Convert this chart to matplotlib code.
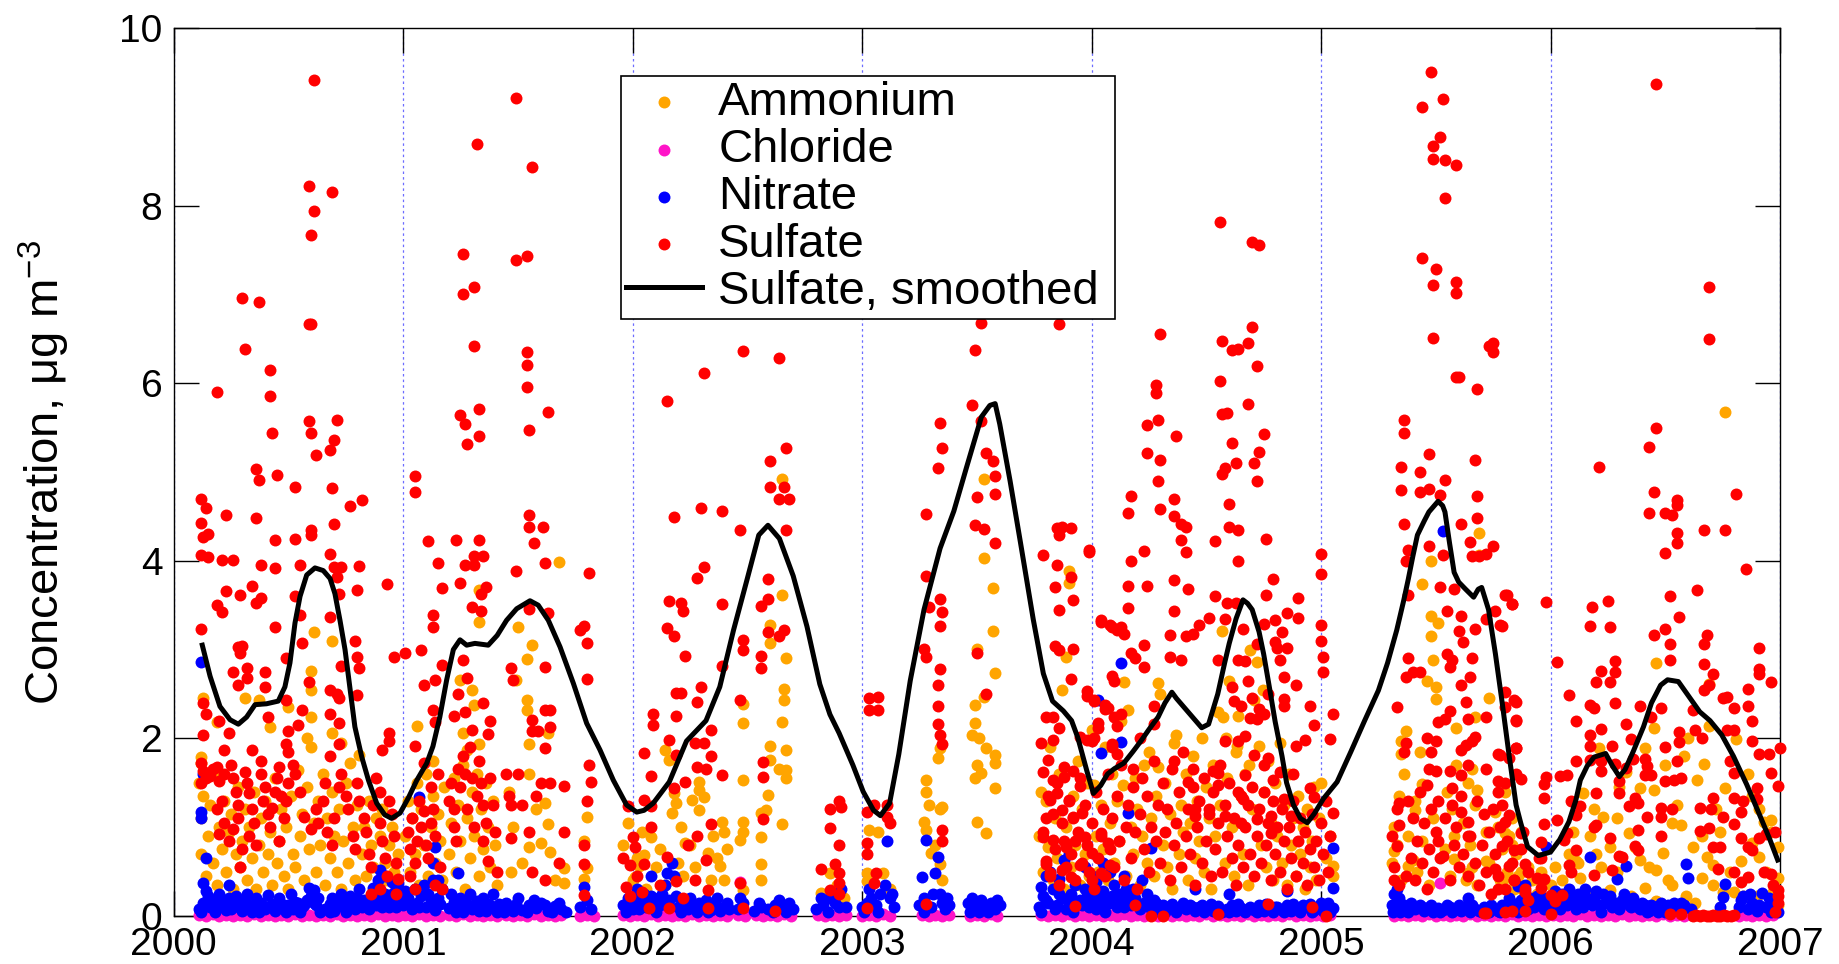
import numpy as np
import matplotlib
matplotlib.use('Agg')
import matplotlib.pyplot as plt

plt.rcParams['font.family'] = ['Liberation Sans', 'DejaVu Sans']
plt.rcParams['mathtext.fontset'] = 'custom'
plt.rcParams['mathtext.rm'] = 'Liberation Sans'

# --------------------------------------------------
# data (decimal year, ug/m3)
# --------------------------------------------------
sulfate = [
    # 2000
    (2000.12,4.70),(2000.12,4.43),(2000.13,4.27),(2000.15,4.30),(2000.12,4.07),(2000.15,4.04),(2000.14,4.59),
    (2000.19,5.90),(2000.23,4.52),(2000.30,6.96),(2000.37,6.92),(2000.31,6.38),(2000.42,6.15),(2000.42,5.86),
    (2000.43,5.44),(2000.36,5.03),(2000.37,4.91),(2000.45,4.97),(2000.53,4.83),(2000.61,9.42),(2000.59,8.22),
    (2000.69,8.15),(2000.61,7.94),(2000.60,7.67),(2000.59,6.67),(2000.60,6.67),(2000.59,5.57),(2000.71,5.59),
    (2000.60,5.44),(2000.70,5.36),(2000.68,5.25),(2000.62,5.19),(2000.69,4.82),(2000.70,4.42),(2000.77,4.62),
    (2000.82,4.68),(2000.36,4.48),(2000.44,4.23),(2000.53,4.25),(2000.60,4.35),(2000.60,4.29),(2000.21,4.01),
    (2000.26,4.01),(2000.38,3.95),(2000.44,3.92),(2000.55,3.95),(2000.68,4.08),(2000.70,3.93),(2000.73,3.93),
    (2000.81,3.94),(2000.12,3.23),(2000.19,3.50),(2000.21,3.42),(2000.23,3.66),(2000.29,3.61),(2000.34,3.72),
    (2000.36,3.52),(2000.38,3.58),(2000.44,3.25),(2000.53,3.60),(2000.55,3.39),(2000.68,3.37),(2000.71,3.82),
    (2000.72,3.63),(2000.80,3.67),(2000.93,3.74),(2000.28,3.03),(2000.30,3.04),(2000.29,2.96),(2000.56,3.07),
    (2000.79,3.10),(2000.80,2.92),(2000.81,2.79),(2000.73,2.81),(2000.96,2.92),(2001.01,2.96),(2001.08,3.00),
    (2000.26,2.75),(2000.32,2.79),(2000.40,2.75),(2000.32,2.68),(2000.28,2.60),(2000.40,2.58),(2000.49,2.90),
    (2000.59,2.64),(2000.68,2.55),(2000.71,2.50),(2000.72,2.45),(2000.80,2.49),(2000.13,2.40),(2000.14,2.28),
    (2000.20,2.20),(2000.41,2.24),(2000.49,2.43),(2000.56,2.32),(2000.68,2.28),(2000.72,2.17),(2000.13,2.04),
    (2000.24,2.06),(2000.22,1.87),(2000.34,1.87),(2000.50,2.08),(2000.49,1.94),(2000.54,2.15),(2000.72,1.94),
    (2000.68,1.80),(2000.94,2.06),(2000.94,1.97),(2000.91,1.87),
    (2000.12,1.72),(2000.13,1.63),(2000.12,1.50),(2000.14,1.55),(2000.16,1.58),(2000.17,1.65),(2000.19,1.68),
    (2000.20,1.52),(2000.22,1.60),(2000.21,1.30),(2000.19,1.20),(2000.22,1.05),(2000.20,0.92),(2000.24,0.85),
    (2000.25,1.70),(2000.26,1.55),(2000.27,1.40),(2000.28,1.25),(2000.28,1.10),(2000.26,0.98),(2000.30,0.75),
    (2000.29,0.55),(2000.31,1.62),(2000.33,1.38),(2000.34,1.20),(2000.35,1.05),(2000.33,0.90),(2000.36,0.80),
    (2000.32,1.50),(2000.38,1.75),(2000.38,1.60),(2000.40,1.45),(2000.39,1.30),(2000.41,1.15),(2000.42,1.00),
    (2000.43,1.22),(2000.44,1.40),(2000.45,1.55),(2000.46,1.68),(2000.47,1.35),(2000.48,1.10),(2000.46,0.85),
    (2000.50,1.85),(2000.52,1.70),(2000.53,1.60),(2000.50,1.50),(2000.49,1.30),(2000.55,1.40),(2000.57,1.12),
    (2000.60,0.98),(2000.62,1.20),(2000.63,1.05),(2000.65,1.30),(2000.66,1.50),(2000.67,0.95),(2000.69,0.80),
    (2000.70,1.10),(2000.72,1.45),(2000.73,1.60),(2000.75,1.35),(2000.76,1.20),(2000.78,0.90),(2000.79,0.75),
    (2000.80,1.50),(2000.81,1.30),(2000.83,1.10),(2000.84,0.95),(2000.85,0.70),(2000.86,0.55),(2000.87,1.25),
    (2000.88,1.55),(2000.90,1.40),(2000.90,1.05),(2000.91,0.85),(2000.92,0.65),(2000.93,0.45),(2000.94,1.30),
    (2000.95,1.15),(2000.96,0.90),(2000.97,0.60),(2000.98,0.42),(2000.97,0.25),(2000.90,0.30),(2000.86,0.25),
    # 2001
    (2001.49,9.21),(2001.32,8.69),(2001.56,8.44),(2001.26,7.46),(2001.49,7.39),(2001.54,7.43),(2001.31,7.08),
    (2001.26,7.00),(2001.31,6.42),(2001.54,6.35),(2001.54,6.20),(2001.54,5.96),(2001.33,5.71),(2001.63,5.68),
    (2001.25,5.64),(2001.27,5.54),(2001.33,5.41),(2001.28,5.31),(2001.55,5.47),(2001.05,4.95),(2001.05,4.78),
    (2001.11,4.22),(2001.15,3.97),(2001.17,3.69),(2001.25,3.75),(2001.23,4.23),(2001.27,3.95),(2001.31,3.95),
    (2001.33,4.23),(2001.31,4.05),(2001.35,4.05),(2001.34,3.63),(2001.36,3.71),(2001.30,3.48),(2001.34,3.43),
    (2001.13,3.39),(2001.13,3.26),(2001.26,2.88),(2001.28,2.68),(2001.49,3.88),(2001.55,4.52),(2001.55,4.38),
    (2001.61,4.38),(2001.57,4.20),(2001.62,3.97),(2001.55,3.46),(2001.63,3.41),(2001.47,2.79),(2001.48,2.66),
    (2001.62,2.80),(2001.64,2.32),(2001.62,2.32),(2001.56,2.21),(2001.56,2.08),(2001.59,2.08),(2001.64,2.13),
    (2001.62,1.89),(2001.13,2.32),(2001.14,2.19),(2001.17,2.83),(2001.14,2.66),(2001.09,2.60),(2001.05,1.91),
    (2001.09,1.72),
    (2001.02,0.95),(2001.03,0.75),(2001.04,1.10),(2001.05,0.60),(2001.06,0.85),(2001.07,1.30),(2001.08,1.00),
    (2001.09,1.18),(2001.10,0.80),(2001.11,0.65),(2001.12,1.45),(2001.12,1.05),(2001.13,1.20),(2001.14,0.90),
    (2001.15,1.60),(2001.16,0.55),(2001.17,0.30),(2001.14,0.35),(2001.05,0.30),(2001.03,0.45),(2001.20,1.30),
    (2001.21,1.50),(2001.22,1.20),(2001.22,1.00),(2001.23,0.85),(2001.24,1.65),(2001.25,1.45),(2001.26,1.80),
    (2001.27,1.60),(2001.28,1.20),(2001.29,1.90),(2001.30,1.55),(2001.31,1.00),(2001.32,1.35),(2001.33,1.75),
    (2001.34,1.50),(2001.35,1.25),(2001.35,0.85),(2001.36,1.05),(2001.37,0.62),(2001.38,1.55),(2001.39,1.25),
    (2001.40,0.95),(2001.41,0.50),(2001.30,2.10),(2001.35,2.40),(2001.38,2.20),(2001.37,2.05),(2001.27,2.30),
    (2001.24,2.50),(2001.22,2.25),
    (2001.45,1.60),(2001.46,1.35),(2001.47,1.25),(2001.47,0.88),(2001.50,1.60),(2001.52,1.25),(2001.55,0.95),
    (2001.58,1.35),(2001.60,1.50),(2001.64,1.50),(2001.70,1.46),(2001.70,0.95),(2001.68,0.60),(2001.62,0.40),
    (2001.56,0.50),
    (2001.77,3.22),(2001.79,3.27),(2001.80,3.07),(2001.80,2.67),(2001.81,3.86),(2001.81,1.70),(2001.82,1.51),
    (2001.80,1.29),(2001.79,0.80),(2001.79,0.59),(2001.79,0.24),
    # 2002
    (2002.15,5.80),(2002.18,4.49),(2002.30,4.59),(2002.39,4.56),(2002.47,4.35),(2002.31,3.93),(2002.28,3.81),
    (2002.16,3.55),(2002.21,3.53),(2002.22,3.44),(2002.39,3.51),(2002.15,3.24),(2002.18,3.15),(2002.23,2.93),
    (2002.39,2.81),(2002.19,2.51),(2002.21,2.51),(2002.30,2.58),(2002.28,2.41),(2002.09,2.28),(2002.09,2.15),
    (2002.19,2.25),(2002.34,2.09),(2002.16,1.98),(2002.05,1.83),(2002.34,1.80),(2002.27,1.95),(2002.31,1.95),
    (2002.19,1.81),(2002.08,1.58),(2002.28,1.68),(2002.32,1.65),(2002.39,1.59),(2002.23,1.51),(2002.18,1.44),
    (2001.98,1.24),(2002.08,1.24),(2002.05,1.31),(2002.00,0.89),(2002.01,0.78),(2002.08,1.00),(2002.34,1.04),
    (2002.28,0.90),(2002.24,0.80),(2001.96,0.65),(2001.99,0.57),(2002.05,0.59),(2002.15,0.67),(2002.32,0.63),
    (2002.19,0.39),(2002.27,0.41),(2002.33,0.29),(2001.97,0.33),(2002.04,0.27),(2001.99,0.22),(2002.07,0.09),
    (2002.16,0.09),(2002.33,0.09),(2002.02,0.45),(2002.12,0.35),(2002.22,0.20),
    (2002.47,2.43),(2002.47,0.37),(2002.48,0.09),(2002.60,5.12),(2002.67,5.27),(2002.60,4.83),(2002.66,4.83),
    (2002.64,4.70),(2002.68,4.70),(2002.67,4.35),(2002.59,3.79),(2002.56,3.49),(2002.59,3.57),(2002.59,3.20),
    (2002.66,3.22),(2002.64,3.15),(2002.48,3.11),(2002.48,3.00),(2002.56,2.93),(2002.56,2.79),(2002.57,1.73),
    (2002.57,1.56),(2002.57,1.09),(2002.62,0.06),(2002.48,6.36),(2002.64,6.28),(2002.31,6.12),
    (2002.86,1.21),(2002.90,1.29),(2002.91,1.23),(2002.86,0.99),(2002.90,0.80),(2002.82,0.53),(2002.88,0.59),
    (2002.90,0.48),(2002.90,0.37),(2002.86,0.29),(2002.90,0.25),
    # 2003
    (2003.03,2.45),(2003.07,2.47),(2003.03,2.32),(2003.07,2.32),(2003.02,1.17),(2003.05,1.25),(2003.11,1.25),
    (2003.11,1.12),(2003.12,1.05),(2003.02,0.82),(2003.02,0.70),(2003.06,0.48),(2003.05,0.37),(2003.02,0.09),
    (2003.28,4.53),(2003.28,3.83),(2003.29,3.48),(2003.34,3.57),(2003.35,3.42),(2003.34,3.27),(2003.34,5.55),
    (2003.35,5.27),(2003.33,5.04),(2003.27,3.01),(2003.28,2.92),(2003.34,2.78),(2003.33,2.60),(2003.33,2.36),
    (2003.33,2.16),(2003.34,2.04),(2003.35,1.94),(2003.35,0.97),(2003.35,0.84),(2003.28,0.14),
    (2003.52,6.68),(2003.49,6.37),(2003.48,5.75),(2003.52,5.57),(2003.54,5.21),(2003.57,5.12),(2003.58,4.95),
    (2003.58,4.75),(2003.50,4.72),(2003.49,4.40),(2003.53,4.36),(2003.58,4.20),(2003.50,2.96),(2003.54,2.50),
    (2003.86,6.67),
    (2003.79,4.07),(2003.85,3.95),(2003.84,3.70),(2003.86,3.45),(2003.91,3.82),(2003.92,3.56),(2003.85,4.37),
    (2003.87,4.38),(2003.91,4.37),(2003.86,4.29),(2003.99,4.12),(2003.84,3.04),(2003.86,3.00),(2003.92,3.01),
    (2003.91,2.67),(2003.80,2.24),(2003.83,2.24),(2003.86,2.12),(2003.83,1.98),(2003.81,1.76),(2003.83,1.53),
    (2003.88,1.57),(2003.88,1.68),(2003.92,1.63),(2004.04,3.33),(2004.08,3.28),(2004.11,3.22),(2004.09,2.70),
    (2003.98,2.53),(2004.01,2.43),(2004.03,2.17),(2003.95,2.02),(2003.98,1.98),(2004.06,2.38),(2004.07,2.34),
    (2004.09,1.94),(2003.95,1.46),(2003.82,1.31),(2003.85,1.38),(2003.87,1.19),(2003.90,1.31),(2003.92,1.12),
    (2003.96,1.16),(2003.80,1.10),(2003.79,0.89),(2003.83,0.86),(2003.89,0.78),(2003.93,0.84),(2003.97,0.89),
    (2004.00,0.71),(2004.04,0.93),(2004.07,0.82),(2003.80,0.59),(2003.82,0.48),(2003.87,0.52),(2003.91,0.44),
    (2003.95,0.57),(2004.00,0.41),(2004.04,0.48),(2004.08,0.57),(2003.93,0.11),
    # 2004
    (2004.24,5.53),(2004.29,5.58),(2004.37,5.41),(2004.24,5.21),(2004.30,5.14),(2004.29,4.90),(2004.17,4.73),
    (2004.16,4.54),(2004.36,4.70),(2004.30,4.58),(2004.36,4.50),(2004.39,4.42),(2004.41,4.38),(2004.39,4.23),
    (2004.41,4.10),(2004.23,4.11),(2004.17,4.00),(2003.99,4.10),(2004.16,3.72),(2004.24,3.72),(2004.16,3.47),
    (2004.04,3.31),(2004.09,3.26),(2004.13,3.25),(2004.14,3.18),(2004.23,3.05),(2004.17,2.96),(2004.19,2.90),
    (2004.23,2.80),(2004.10,2.65),(2003.98,2.48),(2004.01,2.42),(2004.06,2.33),(2004.03,2.12),(2004.10,2.24),
    (2004.11,2.14),(2004.13,2.27),(2004.00,1.97),(2004.01,2.00),(2004.09,1.90),(2004.11,1.82),(2004.18,1.66),
    (2004.21,2.00),(2004.27,2.37),(2004.27,2.16),(2004.34,3.16),(2004.36,3.78),(2004.36,3.43),(2004.34,2.92),
    (2004.39,2.88),(2004.42,3.68),(2004.36,1.74),
    (2004.30,6.55),(2004.28,5.98),(2004.28,5.89),(2004.56,7.81),(2004.70,7.59),(2004.73,7.56),(2004.70,6.63),
    (2004.57,6.47),(2004.61,6.37),(2004.64,6.39),(2004.68,6.45),(2004.72,6.19),(2004.56,6.02),(2004.68,5.77),
    (2004.57,5.65),(2004.59,5.67),(2004.75,5.43),(2004.61,5.33),(2004.73,5.22),(2004.63,5.10),(2004.71,5.10),
    (2004.57,4.98),(2004.58,5.04),(2004.72,4.90),
    (2004.60,4.64),(2004.60,4.38),(2004.64,4.35),(2004.54,4.22),(2004.76,4.24),(2004.64,4.00),(2004.79,3.79),
    (2004.76,3.61),(2004.90,3.58),(2004.54,3.60),(2004.59,3.53),(2004.63,3.53),(2004.58,3.34),(2004.51,3.36),
    (2004.47,3.28),(2004.44,3.18),(2004.41,3.15),(2004.75,3.29),(2004.80,3.33),(2004.85,3.41),(2004.90,3.36),
    (2004.83,3.20),(2004.66,3.23),(2004.72,3.06),(2004.80,3.09),(2004.81,3.02),(2004.85,3.02),(2004.82,2.88),
    (2004.84,2.69),(2004.89,2.60),(2004.95,2.36),(2004.97,2.15),(2004.84,2.44),(2004.84,2.37),(2004.89,1.91),
    (2004.93,1.98),(2004.88,1.60),(2004.95,1.44),(2004.97,1.34),(2005.00,4.08),(2005.00,3.85),(2005.00,3.28),
    (2005.00,3.10),(2005.01,2.92),(2005.01,2.75),(2005.05,2.28),(2005.04,1.99),(2005.05,1.16),(2004.55,2.88),
    (2004.61,2.58),(2004.64,2.88),(2004.67,2.87),(2004.62,2.42),(2004.65,2.36),(2004.69,2.23),(2004.72,2.22),
    (2004.75,2.27),(2004.77,2.50),(2004.70,2.46),(2004.73,2.33),(2004.68,2.65),(2004.64,1.97),(2004.67,2.03),
    (2004.58,1.97),(2004.53,1.63),(2004.55,1.61),(2004.55,1.47),(2004.67,1.59),(2004.64,1.40),(2004.66,1.32),
    (2004.71,1.81),(2004.75,1.70),(2004.77,1.78),(2004.79,1.53),(2004.82,1.62),(2004.84,1.32),(2004.87,1.13),
    (2004.78,1.13),(2004.78,0.94),(2004.72,1.09),(2004.65,1.05),(2004.58,1.13),(2004.51,1.21),(2004.45,1.21),
    (2004.45,1.13),(2004.42,1.51),(2004.44,1.66),(2004.19,0.12),(2004.26,0.00),(2004.31,0.00),(2004.55,0.02),
    (2004.77,0.14),(2004.96,0.10),(2005.02,0.00),
    (2003.78,1.95),(2003.79,1.62),(2003.79,0.95),(2003.80,0.62),(2003.81,1.35),(2003.82,0.45),(2003.83,1.15),
    (2003.84,0.75),(2003.85,1.50),(2003.86,0.35),(2003.87,1.05),(2003.88,0.85),(2003.89,0.55),(2003.90,1.30),
    (2003.91,0.70),(2003.92,1.10),(2003.93,0.40),(2003.94,0.95),(2003.95,1.55),(2003.96,0.60),(2003.97,1.25),
    (2003.98,0.80),(2003.99,0.50),(2004.00,1.05),(2004.01,0.30),(2004.02,1.40),(2004.03,0.65),(2004.04,0.90),
    (2004.05,1.20),(2004.06,0.45),(2004.07,1.60),(2004.08,0.75),(2004.09,1.10),(2004.10,0.55),(2004.11,1.35),
    (2004.12,0.85),(2004.13,1.70),(2004.14,0.40),(2004.15,1.00),(2004.16,1.25),(2004.17,0.65),(2004.18,1.45),
    (2004.19,0.95),(2004.20,0.30),(2004.21,1.15),(2004.22,1.55),(2004.23,0.75),(2004.24,1.35),(2004.25,0.50),
    (2004.26,1.00),(2004.27,1.75),(2004.28,0.85),(2004.29,1.25),(2004.30,0.60),(2004.31,1.50),(2004.32,0.95),
    (2004.33,1.20),(2004.34,0.40),(2004.35,1.65),(2004.36,0.80),(2004.37,1.05),(2004.38,1.40),(2004.39,0.55),
    (2004.40,1.85),(2004.41,0.90),(2004.42,1.20),(2004.43,0.70),(2004.44,1.45),(2004.45,0.35),(2004.46,1.00),
    (2004.47,1.30),(2004.48,0.60),(2004.49,1.55),(2004.50,0.85),(2004.51,1.15),(2004.52,0.45),(2004.53,1.40),
    (2004.54,0.75),(2004.55,1.05),(2004.56,1.70),(2004.57,0.50),(2004.58,1.25),(2004.59,0.90),(2004.60,1.50),
    (2004.61,0.65),(2004.62,1.10),(2004.63,0.35),(2004.64,0.80),(2004.65,1.35),(2004.66,0.55),(2004.67,1.00),
    (2004.68,1.25),(2004.69,0.70),(2004.70,1.45),(2004.71,0.45),(2004.72,0.90),(2004.73,1.20),(2004.74,0.60),
    (2004.75,1.40),(2004.76,0.80),(2004.77,1.05),(2004.78,0.40),(2004.79,1.30),(2004.80,0.70),(2004.81,1.00),
    (2004.82,0.50),(2004.83,1.20),(2004.84,0.85),(2004.85,0.30),(2004.86,1.00),(2004.87,0.65),(2004.88,1.30),
    (2004.89,0.45),(2004.90,0.85),(2004.91,1.10),(2004.92,0.60),(2004.93,0.95),(2004.94,0.35),(2004.95,0.75),
    (2004.96,1.15),(2004.97,0.55),(2004.98,0.85),(2004.99,0.40),(2005.00,1.05),(2005.01,0.70),(2005.02,1.30),
    (2005.03,0.50),(2005.04,0.90),
    # 2005
    (2005.48,9.51),(2005.53,9.20),(2005.44,9.11),(2005.52,8.77),(2005.49,8.67),(2005.49,8.53),(2005.54,8.51),
    (2005.59,8.46),(2005.54,8.09),(2005.44,7.41),(2005.50,7.29),(2005.49,7.11),(2005.59,7.14),(2005.59,7.02),
    (2005.49,6.51),(2005.73,6.42),(2005.75,6.45),(2005.75,6.35),(2005.59,6.07),(2005.60,6.07),(2005.68,5.94),
    (2005.36,5.59),(2005.36,5.44),(2005.47,5.20),(2005.35,5.06),(2005.43,5.00),(2005.35,4.80),(2005.43,4.77),
    (2005.47,4.81),(2005.52,4.74),(2005.54,4.91),
    (2005.67,5.13),(2005.68,4.73),(2005.68,4.48),(2005.36,4.41),(2005.61,4.41),(2005.65,4.21),(2005.66,4.05),
    (2005.69,4.05),(2005.75,4.17),(2005.72,4.08),(2005.47,4.17),(2005.38,4.12),(2005.37,4.00),(2005.53,4.07),
    (2005.52,3.70),(2005.58,3.68),(2005.38,3.62),(2005.80,3.62),(2005.83,3.51),(2005.76,3.44),(2005.78,3.28),
    (2005.72,3.34),(2005.55,3.43),(2005.61,3.38),(2005.60,3.21),(2005.67,3.23),(2005.62,3.08),(2005.66,2.91),
    (2005.55,2.95),(2005.57,2.88),(2005.56,2.80),(2005.40,2.75),(2005.38,2.91),(2005.43,2.75),(2005.37,2.69),
    (2005.65,2.69),(2005.61,2.60),(2005.33,2.35),(2005.63,2.41),(2005.84,2.43),(2005.80,2.35),(2005.85,2.21),
    (2005.72,2.24),(2005.51,2.18),(2005.54,2.22),(2005.56,2.31),(2005.64,2.22),(2005.67,2.02),(2005.66,1.97),
    (2005.63,1.93),(2005.61,1.87),(2005.50,1.97),(2005.48,1.85),(2005.46,2.00),(2005.37,1.95),(2005.36,1.85),
    (2005.77,1.82),(2005.82,1.78),(2005.85,1.89),(2005.72,1.65),(2005.64,1.70),(2005.61,1.59),(2005.56,1.63),
    (2005.47,1.65),(2005.50,1.63),(2005.46,1.47),(2005.57,1.44),(2005.34,1.27),(2005.77,1.52),(2005.77,1.40),
    (2005.79,1.25),(2005.80,1.06),(2005.85,1.60),(2005.64,1.06),(2005.64,0.90),(2005.61,1.17),(2005.51,0.85),
    (2005.53,0.68),(2005.33,0.79),(2005.34,1.02),(2005.32,0.41),(2005.76,0.53),(2005.77,0.30),(2005.72,0.03),
    (2005.89,0.27),(2005.90,0.18),(2005.82,0.56),(2005.84,0.41),
    (2005.31,0.90),(2005.32,0.55),(2005.33,1.20),(2005.34,0.35),(2005.37,0.45),(2005.38,1.30),(2005.39,0.65),
    (2005.40,1.10),(2005.41,0.40),(2005.42,0.85),(2005.43,1.40),(2005.44,0.60),(2005.45,1.05),(2005.46,0.30),
    (2005.47,0.75),(2005.48,1.20),(2005.49,0.50),(2005.50,0.95),(2005.51,1.30),(2005.52,0.65),(2005.54,1.10),
    (2005.56,0.40),(2005.57,1.25),(2005.58,0.80),(2005.59,1.00),(2005.60,0.55),(2005.61,1.35),(2005.62,0.70),
    (2005.64,0.45),(2005.65,0.90),(2005.67,0.60),(2005.68,1.30),(2005.69,0.35),(2005.70,0.80),(2005.71,1.15),
    (2005.72,0.50),(2005.73,0.95),(2005.74,0.25),(2005.75,1.20),(2005.76,0.70),(2005.77,0.45),(2005.78,1.00),
    (2005.80,0.30),(2005.81,0.85),(2005.83,0.60),(2005.84,0.40),(2005.87,0.75),(2005.88,0.95),(2005.89,0.30),
    (2005.90,0.50),(2005.95,0.65),(2005.97,0.42),(2005.71,0.03),(2005.80,0.05),
    # 2006
    (2006.46,9.37),(2006.69,7.08),(2006.69,6.50),
    (2006.46,5.50),(2006.43,5.28),(2006.21,5.06),(2006.45,4.77),(2006.55,4.69),(2006.55,4.63),(2006.43,4.54),
    (2006.50,4.54),(2006.53,4.52),(2006.67,4.35),(2006.76,4.35),(2006.81,4.75),(2006.55,4.31),(2006.55,4.20),
    (2006.50,4.09),(2006.85,3.91),(2006.64,3.67),(2006.52,3.60),(2006.56,3.37),(2005.81,3.62),(2005.83,3.51),
    (2005.79,3.27),(2005.98,3.54),(2006.17,3.27),(2006.18,3.48),(2006.25,3.55),(2006.26,3.26),(2006.45,3.17),
    (2006.50,3.23),(2006.68,3.17),(2006.67,3.06),(2006.52,3.06),(2006.91,3.02),(2006.03,2.86),(2006.22,2.76),
    (2006.28,2.87),(2006.28,2.75),(2006.52,2.88),(2006.67,2.84),(2006.71,2.72),(2006.91,2.78),(2006.91,2.72),
    (2006.96,2.63),(2006.20,2.64),(2006.26,2.63),(2006.08,2.49),(2006.17,2.38),(2006.19,2.34),(2006.28,2.40),
    (2006.39,2.37),(2006.44,2.24),(2006.48,2.34),(2006.67,2.55),(2006.69,2.60),(2006.62,2.32),(2006.75,2.45),
    (2006.77,2.47),(2006.80,2.34),(2006.86,2.56),(2006.86,2.36),(2005.85,2.41),(2005.85,2.20),(2006.11,2.20),
    (2006.22,2.11),(2006.33,2.16),(2005.80,2.52),(2006.63,2.09),(2006.66,2.00),(2006.77,2.10),(2006.80,2.10),
    (2006.88,2.20),(2006.88,1.97),(2006.91,1.82),(2006.95,1.82),(2006.56,2.07),(2006.56,1.96),(2006.35,1.99),
    (2006.17,2.04),(2006.17,1.91),(2007.00,1.89),(2006.50,1.90),(2006.55,1.75),(2006.27,1.91),(2006.28,1.71),
    (2006.11,1.75),(2006.17,1.76),(2006.04,1.58),(2006.07,1.59),(2005.98,1.56),(2005.97,1.49),(2006.33,1.67),
    (2006.41,1.77),(2006.42,1.69),(2006.36,1.77),(2006.22,1.75),(2006.22,1.63),(2006.30,1.52),(2006.30,1.38),
    (2006.44,1.59),(2006.41,1.59),(2006.57,1.55),(2006.54,1.53),(2006.50,1.52),(2006.78,1.75),(2006.80,1.61),
    (2006.96,1.61),(2006.99,1.46),(2005.80,1.50),(2005.87,1.54),(2005.78,1.81),(2005.85,1.89),(2005.97,1.33),
    (2006.09,1.29),(2006.13,1.24),(2006.20,1.39),(2006.37,1.33),(2006.34,1.24),(2006.38,1.27),(2006.71,1.33),
    (2006.65,1.22),(2006.70,1.20),(2006.75,1.12),(2006.80,1.33),(2006.84,1.29),(2006.83,1.17),(2006.90,1.44),
    (2006.90,1.32),(2006.48,1.22),(2006.48,1.11),(2006.53,1.20),(2006.42,1.11),(2005.82,1.14),(2005.87,0.94),
    (2005.97,1.04),(2005.96,0.83),(2006.03,1.08),(2006.11,1.14),(2006.19,1.00),(2006.20,1.02),(2006.26,0.88),
    (2006.38,0.97),(2006.37,0.79),(2006.38,0.74),(2006.30,0.68),(2006.31,0.67),(2006.48,0.90),(2006.65,0.96),
    (2006.69,0.99),(2006.71,0.78),(2006.74,0.78),(2006.80,1.04),(2006.83,0.88),(2006.86,0.78),(2006.88,0.74),
    (2006.91,0.88),(2006.94,0.92),(2006.98,0.95),(2005.79,0.79),(2005.84,0.74),(2005.89,0.59),(2005.96,0.65),
    (2006.07,0.94),(2006.06,0.86),(2006.08,0.57),(2006.09,0.50),(2006.11,0.74),(2006.19,0.46),(2006.27,0.52),
    (2006.73,0.53),(2006.80,0.50),(2006.83,0.38),(2006.86,0.44),(2006.93,0.50),(2006.96,0.47),(2006.97,0.35),
    (2006.99,0.29),(2005.94,0.43),(2005.96,0.31),(2006.00,0.24),(2006.02,0.17),(2006.05,0.24),(2005.83,0.06),
    (2005.89,0.06),(2006.00,0.02),(2006.52,0.02),(2006.57,0.02),(2006.98,0.04),(2006.99,0.23),(2006.99,0.15),
    (2006.62,0.00),(2006.635,0.01),(2006.65,0.00),(2006.665,0.01),(2006.68,0.00),(2006.695,0.00),(2006.71,0.01),
    (2006.725,0.00),(2006.74,0.00),(2006.755,0.01),(2006.77,0.00),(2006.785,0.00),(2006.80,0.01),
]

ammonium = [
    # 2000
    (2000.61,3.20),(2000.69,3.10),(2000.60,2.76),(2000.60,2.55),(2000.31,2.46),(2000.37,2.43),(2000.13,2.45),
    (2000.19,2.19),(2000.60,2.24),(2000.42,2.13),(2000.69,2.06),(2000.12,1.79),(2000.12,1.72),(2000.58,2.00),
    (2000.50,2.35),(2000.73,1.95),
    (2000.11,1.50),(2000.12,1.10),(2000.12,0.70),(2000.13,1.35),(2000.14,0.45),(2000.15,0.90),(2000.16,1.25),
    (2000.17,0.60),(2000.18,1.60),(2000.19,0.35),(2000.20,1.00),(2000.21,0.75),(2000.22,1.30),(2000.23,0.50),
    (2000.24,0.95),(2000.25,1.15),(2000.26,0.30),(2000.27,0.70),(2000.28,1.45),(2000.29,0.55),(2000.30,0.85),
    (2000.31,1.20),(2000.32,0.40),(2000.33,1.00),(2000.34,0.65),(2000.35,1.40),(2000.36,0.30),(2000.37,0.80),
    (2000.38,1.10),(2000.39,0.50),(2000.40,1.30),(2000.41,0.70),(2000.42,0.95),(2000.43,0.35),(2000.44,1.55),
    (2000.45,0.60),(2000.46,0.85),(2000.47,1.20),(2000.48,0.45),(2000.49,1.00),(2000.50,0.30),(2000.51,1.35),
    (2000.52,0.70),(2000.53,0.55),(2000.54,1.64),(2000.55,0.90),(2000.56,1.15),(2000.57,0.40),(2000.58,1.45),
    (2000.59,0.75),(2000.60,1.90),(2000.61,1.05),(2000.62,0.50),(2000.63,1.30),(2000.64,0.80),(2000.65,1.60),
    (2000.66,0.35),(2000.67,1.10),(2000.68,0.65),(2000.69,1.40),(2000.70,0.90),(2000.71,0.50),(2000.72,1.20),
    (2000.73,0.30),(2000.74,0.85),(2000.75,1.50),(2000.76,0.60),(2000.77,1.72),(2000.78,1.00),(2000.79,0.40),
    (2000.80,1.25),(2000.81,1.81),(2000.82,0.70),(2000.83,1.00),(2000.84,0.45),(2000.85,1.30),(2000.86,0.80),
    (2000.87,0.55),(2000.88,1.10),(2000.89,0.30),(2000.90,0.90),(2000.91,1.20),(2000.92,0.60),(2000.93,0.40),
    (2000.94,0.80),(2000.95,1.00),(2000.96,0.50),(2000.97,0.30),(2000.98,0.70),
    # 2001
    (2001.06,2.14),(2001.31,2.38),(2001.25,2.66),(2001.30,2.55),(2001.33,3.67),(2001.33,3.31),(2001.26,2.06),
    (2001.33,1.94),(2001.28,1.87),(2001.13,1.74),
    (2001.01,0.90),(2001.02,1.30),(2001.03,0.50),(2001.04,1.10),(2001.05,0.70),(2001.06,1.50),(2001.07,0.35),
    (2001.08,1.20),(2001.09,0.80),(2001.10,1.60),(2001.11,0.45),(2001.12,1.00),(2001.13,1.35),(2001.14,0.60),
    (2001.15,1.15),(2001.16,0.85),(2001.17,0.40),(2001.18,1.45),(2001.20,0.70),(2001.21,1.05),(2001.22,1.55),
    (2001.23,0.50),(2001.24,1.25),(2001.25,0.85),(2001.26,1.70),(2001.27,0.30),(2001.28,1.10),(2001.29,0.65),
    (2001.30,1.40),(2001.31,0.90),(2001.32,1.60),(2001.33,0.45),(2001.34,1.20),(2001.35,0.75),(2001.36,1.50),
    (2001.37,1.00),(2001.38,0.55),(2001.39,1.30),(2001.40,0.80),(2001.41,0.35),
    (2001.50,3.26),(2001.56,3.05),(2001.54,2.89),(2001.49,2.66),(2001.54,2.43),(2001.54,2.32),(2001.63,2.06),
    (2001.55,1.94),(2001.55,1.60),(2001.62,1.27),(2001.63,1.04),(2001.55,0.78),(2001.60,0.82),(2001.64,0.72),
    (2001.70,0.54),(2001.70,0.37),(2001.48,1.00),(2001.47,0.50),(2001.68,3.99),(2001.46,1.40),(2001.52,0.60),
    (2001.58,1.20),(2001.66,0.40),
    (2001.80,1.12),(2001.79,0.84),(2001.80,0.54),(2001.79,0.42),
    # 2002
    (2002.14,1.87),(2002.16,1.76),(2002.18,1.38),(2002.19,1.27),(2002.17,1.16),(2002.29,1.51),(2002.31,1.34),
    (2002.26,1.31),(2002.29,1.19),(2002.33,0.71),(2002.21,1.00),(2002.23,0.82),(2002.08,0.89),(2002.05,0.69),
    (2002.03,0.56),(2002.01,0.44),(2002.39,1.06),(2002.40,0.95),(2002.38,0.56),(2002.34,0.41),(2002.29,1.42),
    (2001.96,0.80),(2001.98,1.05),(2002.00,0.40),(2002.02,0.65),(2002.04,0.95),(2002.06,0.30),(2002.10,0.55),
    (2002.12,0.75),(2002.14,0.35),(2002.20,0.60),(2002.22,0.45),(2002.25,0.80),(2002.27,0.55),(2002.35,0.90),
    (2002.37,0.65),(2002.40,0.40),(2002.41,0.75),
    (2002.48,1.53),(2002.48,2.39),(2002.48,2.17),(2002.48,1.06),(2002.48,0.95),(2002.47,0.86),(2002.48,0.29),
    (2002.65,4.92),(2002.65,3.61),(2002.60,3.28),(2002.60,3.07),(2002.67,2.90),(2002.66,2.56),(2002.66,2.43),
    (2002.65,2.18),(2002.60,1.91),(2002.60,1.76),(2002.67,1.87),(2002.64,1.66),(2002.67,1.64),(2002.67,1.55),
    (2002.59,1.36),(2002.58,1.19),(2002.56,1.16),(2002.65,1.04),(2002.56,0.89),(2002.56,0.59),(2002.56,0.41),
    (2002.82,0.26),(2002.86,0.48),(2002.89,0.35),(2002.92,0.20),
    # 2003
    (2003.03,0.97),(2003.07,0.95),(2003.02,0.48),(2003.02,0.39),(2003.09,0.48),(2003.12,0.30),
    (2003.28,1.53),(2003.28,1.40),(2003.29,1.25),(2003.27,1.06),(2003.28,0.97),(2003.34,1.21),(2003.35,1.23),
    (2003.34,1.89),(2003.33,1.78),(2003.34,0.59),(2003.35,0.41),(2003.30,0.71),(2003.32,0.80),
    (2003.53,4.92),(2003.53,4.03),(2003.57,3.69),(2003.57,3.21),(2003.58,2.74),(2003.50,3.01),(2003.49,2.38),
    (2003.53,2.47),(2003.49,2.17),(2003.48,2.04),(2003.51,2.00),(2003.54,1.89),(2003.58,1.81),(2003.58,1.72),
    (2003.50,1.70),(2003.49,1.55),(2003.52,1.61),(2003.58,1.44),(2003.50,1.06),(2003.54,0.93),
    (2003.77,0.90),(2003.78,1.40),(2003.79,0.50),(2003.80,1.29),(2003.81,0.78),(2003.82,1.90),(2003.83,0.40),
    (2003.84,1.10),(2003.85,0.65),(2003.86,1.60),(2003.87,2.55),(2003.88,0.30),(2003.89,2.92),(2003.89,1.00),
    (2003.90,3.88),(2003.90,3.75),(2003.91,0.55),(2003.92,1.35),(2003.93,0.80),(2003.94,1.75),(2003.95,0.35),
    (2003.96,1.20),(2003.97,0.70),(2003.98,1.50),(2003.99,0.45),
    # 2004
    (2004.00,2.10),(2004.01,1.47),(2004.02,0.90),(2004.03,0.50),(2004.04,1.25),(2004.05,0.75),(2004.06,1.90),
    (2004.07,0.40),(2004.08,1.05),(2004.09,1.60),(2004.10,0.60),(2004.11,1.30),(2004.12,0.85),(2004.13,2.20),
    (2004.135,1.47),(2004.14,2.64),(2004.15,0.45),(2004.16,2.32),(2004.17,1.00),(2004.18,0.70),(2004.19,1.55),
    (2004.20,1.20),(2004.21,0.35),(2004.22,0.90),(2004.23,1.70),(2004.24,0.60),(2004.25,1.85),(2004.26,1.10),
    (2004.27,0.45),(2004.28,1.35),(2004.29,2.62),(2004.29,1.68),(2004.30,2.50),(2004.31,0.80),(2004.32,1.50),
    (2004.33,0.55),(2004.34,1.15),(2004.35,0.30),(2004.36,1.95),(2004.37,2.04),(2004.38,0.70),(2004.39,1.25),
    (2004.40,0.95),(2004.41,1.60),(2004.42,0.40),(2004.43,1.05),(2004.44,1.80),(2004.45,0.65),(2004.46,1.30),
    (2004.47,0.85),(2004.48,2.00),(2004.49,0.50),(2004.50,1.45),(2004.51,1.10),(2004.52,0.30),(2004.53,1.70),
    (2004.54,0.90),(2004.55,2.30),(2004.56,1.25),(2004.57,3.21),(2004.575,2.24),(2004.58,0.60),(2004.585,2.01),
    (2004.59,1.55),(2004.60,2.65),(2004.61,1.00),(2004.62,0.45),(2004.63,1.85),(2004.635,1.91),(2004.64,2.25),
    (2004.65,1.35),(2004.66,0.70),(2004.67,1.60),(2004.68,0.35),(2004.686,1.70),(2004.69,3.00),(2004.70,1.20),
    (2004.71,2.43),(2004.72,2.86),(2004.73,1.91),(2004.74,0.80),(2004.745,2.54),(2004.75,1.40),(2004.76,0.55),
    (2004.77,1.75),(2004.78,1.05),(2004.79,0.40),(2004.80,1.50),(2004.81,0.90),(2004.82,1.95),(2004.83,0.60),
    (2004.84,1.25),(2004.85,0.35),(2004.86,1.60),(2004.87,0.80),(2004.88,1.10),(2004.89,0.45),(2004.90,1.35),
    (2004.91,0.70),(2004.92,1.00),(2004.93,0.30),(2004.94,1.20),(2004.95,0.55),(2004.96,0.85),(2004.97,1.45),
    (2004.98,0.40),(2004.99,1.10),(2005.00,1.50),(2005.02,0.65),(2005.04,0.90),(2005.05,0.56),(2005.05,0.45),
    # 2005
    (2005.69,4.31),(2005.69,4.06),(2005.48,4.00),(2005.44,3.74),(2005.48,3.38),(2005.51,3.30),(2005.48,3.15),
    (2005.49,2.88),(2005.46,2.65),(2005.50,2.58),(2005.50,2.44),(2005.73,2.46),(2005.67,2.24),(2005.59,2.12),
    (2005.37,2.08),(2005.35,1.97),(2005.35,1.82),(2005.43,1.85),(2005.44,1.49),(2005.41,1.19),(2005.66,1.65),
    (2005.68,1.42),(2005.76,1.17),(2005.72,0.62),(2005.58,0.64),(2005.64,0.48),(2005.38,0.56),(2005.32,0.73),
    (2005.31,0.60),(2005.32,1.00),(2005.33,0.80),(2005.34,1.35),(2005.35,0.40),(2005.36,1.60),(2005.38,0.90),
    (2005.40,0.63),(2005.41,1.30),(2005.42,0.50),(2005.44,0.85),(2005.47,0.35),(2005.49,1.10),(2005.54,0.75),
    (2005.55,1.40),(2005.56,0.45),(2005.57,1.20),(2005.58,0.90),(2005.59,1.70),(2005.62,1.05),(2005.63,0.40),
    (2005.64,1.50),(2005.65,0.80),(2005.66,0.55),(2005.67,1.25),(2005.68,0.35),(2005.72,0.95),(2005.73,0.60),
    (2005.77,1.00),(2005.78,0.40),(2005.79,0.75),(2005.80,1.40),(2005.81,0.50),(2005.82,0.90),(2005.83,1.10),
    (2005.84,0.30),(2005.85,0.70),(2005.86,0.45),(2005.87,0.95),(2005.88,0.30),(2005.90,0.55),(2005.92,0.40),
    (2005.94,0.25),(2005.96,0.50),(2005.80,0.94),(2005.80,0.43),(2005.84,0.33),(2005.88,0.29),(2005.87,0.50),
    (2005.83,0.80),
    # 2006
    (2006.76,5.68),(2006.46,2.85),(2006.69,2.61),(2006.69,2.14),(2006.81,1.99),(2006.67,1.71),(2006.64,1.53),
    (2006.76,1.44),(2006.45,1.42),(2006.39,1.44),(2006.55,1.25),(2006.57,1.02),(2006.53,1.05),(2006.45,2.12),
    (2006.41,1.89),(2006.21,1.89),(2006.14,1.38),(2006.19,1.20),(2006.23,1.12),(2006.29,1.10),(2006.34,0.94),
    (2006.37,0.78),(2006.39,0.63),(2006.43,0.55),(2006.46,0.52),(2006.49,0.71),(2006.51,0.41),(2006.53,0.35),
    (2006.26,0.78),(2006.29,0.50),(2006.17,0.90),(2006.20,0.70),(2006.22,0.55),(2006.11,0.62),(2006.13,0.43),
    (2006.16,0.27),(2006.62,0.78),(2006.66,0.90),(2006.68,0.66),(2006.71,0.57),(2006.66,0.43),(2006.71,0.35),
    (2006.75,0.27),(2006.78,0.50),(2006.83,0.62),(2006.88,0.82),(2006.91,0.66),(2006.94,0.50),(2006.91,1.21),
    (2006.93,1.06),(2006.96,0.95),(2006.96,1.08),(2006.99,0.78),(2006.99,0.43),(2006.97,0.27),(2006.99,0.12),
    (2006.90,0.23),(2006.84,0.23),(2006.80,0.27),(2006.59,0.23),(2006.63,0.15),(2006.41,0.31),(2006.46,0.17),
    (2006.35,0.23),(2006.26,0.29),(2006.19,0.15),(2006.00,0.35),(2006.02,0.55),(2006.05,0.40),(2006.08,0.70),
    (2006.10,0.95),(2006.12,0.60),(2006.30,1.45),(2006.33,1.62),(2006.58,1.80),(2006.60,2.00),(2006.50,1.70),
    (2006.86,1.60),(2006.88,1.35),(2006.72,1.20),(2006.74,0.95),
]

nitrate = [
    # 2000
    (2000.12,2.86),(2000.13,1.60),(2000.12,1.17),(2000.12,1.10),(2000.14,0.65),(2000.13,0.37),(2000.24,0.35),
    (2000.61,0.29),(2000.98,0.37),(2000.97,0.33),(2000.90,0.52),(2000.92,0.45),(2000.88,0.28),(2000.95,0.25),
    (2000.11,0.08),(2000.13,0.15),(2000.15,0.22),(2000.16,0.10),(2000.18,0.05),(2000.19,0.18),(2000.21,0.12),
    (2000.23,0.07),(2000.24,0.20),(2000.26,0.10),(2000.28,0.14),(2000.30,0.06),(2000.31,0.17),(2000.33,0.09),
    (2000.35,0.12),(2000.37,0.05),(2000.38,0.15),(2000.40,0.08),(2000.42,0.11),(2000.44,0.06),(2000.45,0.14),
    (2000.47,0.09),(2000.49,0.05),(2000.50,0.12),(2000.52,0.08),(2000.54,0.15),(2000.56,0.10),(2000.58,0.18),
    (2000.60,0.22),(2000.62,0.12),(2000.64,0.05),(2000.66,0.08),(2000.68,0.14),(2000.70,0.06),(2000.72,0.11),
    (2000.74,0.17),(2000.76,0.09),(2000.78,0.13),(2000.80,0.20),(2000.82,0.10),(2000.84,0.15),(2000.86,0.22),
    (2000.88,0.12),(2000.90,0.18),(2000.92,0.25),(2000.94,0.10),(2000.96,0.15),(2000.98,0.20),
    (2000.12,0.05),(2000.14,0.28),(2000.17,0.12),(2000.20,0.25),(2000.22,0.15),(2000.25,0.08),(2000.27,0.22),
    (2000.29,0.12),(2000.32,0.25),(2000.34,0.05),(2000.36,0.20),(2000.39,0.10),(2000.41,0.24),(2000.43,0.14),
    (2000.46,0.20),(2000.48,0.12),(2000.51,0.25),(2000.53,0.16),(2000.55,0.05),(2000.57,0.12),(2000.59,0.32),
    (2000.61,0.15),(2000.63,0.20),(2000.68,0.05),(2000.69,0.20),(2000.71,0.12),(2000.73,0.25),(2000.75,0.05),
    (2000.77,0.22),(2000.79,0.08),(2000.81,0.30),(2000.83,0.18),(2000.85,0.08),(2000.87,0.32),(2000.89,0.40),
    (2000.91,0.10),(2000.93,0.18),(2000.95,0.38),(2000.97,0.10),
    # 2001
    (2001.07,1.34),(2001.14,0.78),(2001.13,0.60),(2001.15,0.40),(2001.24,0.48),
    (2001.00,0.12),(2001.02,0.20),(2001.04,0.08),(2001.06,0.15),(2001.08,0.22),(2001.10,0.10),(2001.12,0.18),
    (2001.14,0.07),(2001.16,0.14),(2001.20,0.09),(2001.22,0.16),(2001.24,0.10),(2001.26,0.05),(2001.28,0.13),
    (2001.30,0.08),(2001.32,0.17),(2001.34,0.10),(2001.36,0.06),(2001.38,0.12),(2001.40,0.09),(2001.42,0.14),
    (2001.01,0.28),(2001.03,0.15),(2001.05,0.30),(2001.07,0.10),(2001.09,0.35),(2001.11,0.25),(2001.13,0.40),
    (2001.15,0.20),(2001.17,0.30),(2001.21,0.25),(2001.23,0.05),(2001.25,0.20),(2001.27,0.15),(2001.29,0.25),
    (2001.31,0.12),(2001.33,0.06),(2001.35,0.20),(2001.37,0.14),(2001.39,0.25),(2001.41,0.05),
    (2001.44,0.05),(2001.46,0.10),(2001.49,0.14),(2001.52,0.07),(2001.55,0.12),(2001.58,0.09),(2001.60,0.15),
    (2001.63,0.06),(2001.66,0.11),(2001.69,0.08),(2001.71,0.04),
    (2001.45,0.15),(2001.48,0.06),(2001.50,0.20),(2001.54,0.05),(2001.57,0.18),(2001.62,0.12),(2001.65,0.05),
    (2001.68,0.15),
    (2001.77,0.10),(2001.79,0.33),(2001.80,0.18),(2001.82,0.08),
    # 2002
    (2001.96,0.12),(2001.98,0.20),(2002.00,0.08),(2002.02,0.30),(2002.04,0.15),(2002.06,0.10),(2002.08,0.22),
    (2002.10,0.05),(2002.12,0.12),(2002.14,0.35),(2002.16,0.18),(2002.18,0.45),(2002.20,0.10),(2002.22,0.15),
    (2002.24,0.08),(2002.26,0.12),(2002.28,0.05),(2002.30,0.10),(2002.32,0.18),(2002.34,0.07),(2002.36,0.12),
    (2002.38,0.06),(2002.40,0.10),(2002.42,0.08),(2002.17,0.60),(2002.15,0.48),(2002.08,0.45),
    (2001.97,0.05),(2001.99,0.10),(2002.01,0.18),(2002.03,0.08),(2002.05,0.25),(2002.07,0.15),(2002.09,0.10),
    (2002.11,0.20),(2002.13,0.25),(2002.19,0.22),(2002.21,0.05),(2002.25,0.20),(2002.29,0.15),(2002.33,0.05),
    (2002.37,0.20),(2002.41,0.15),
    (2002.46,0.08),(2002.48,0.15),(2002.53,0.06),(2002.56,0.10),(2002.59,0.08),(2002.62,0.12),(2002.64,0.18),
    (2002.66,0.10),(2002.68,0.15),(2002.70,0.08),(2002.47,0.20),(2002.55,0.15),(2002.61,0.05),(2002.67,0.05),
    (2002.80,0.08),(2002.83,0.12),(2002.86,0.20),(2002.88,0.15),(2002.91,0.30),(2002.93,0.10),
    (2002.82,0.20),(2002.85,0.05),(2002.90,0.10),
    # 2003
    (2003.00,0.10),(2003.02,0.15),(2003.04,0.20),(2003.06,0.12),(2003.08,0.25),(2003.10,0.35),(2003.11,0.84),
    (2003.12,0.20),(2003.14,0.10),(2003.01,0.05),(2003.03,0.30),(2003.07,0.05),(2003.13,0.25),
    (2003.25,0.12),(2003.26,0.44),(2003.27,0.20),(2003.28,0.86),(2003.30,0.10),(2003.32,0.48),(2003.33,0.67),
    (2003.34,0.25),(2003.35,0.15),(2003.36,0.08),(2003.38,0.12),(2003.27,0.05),(2003.31,0.25),(2003.37,0.20),
    (2003.46,0.15),(2003.48,0.20),(2003.50,0.12),(2003.52,0.18),(2003.54,0.10),(2003.56,0.15),(2003.58,0.08),
    (2003.60,0.12),(2003.47,0.05),(2003.51,0.05),(2003.55,0.05),(2003.59,0.18),
    (2003.77,0.10),(2003.79,0.22),(2003.81,0.15),(2003.83,0.30),(2003.85,0.12),(2003.87,0.20),(2003.89,0.08),
    (2003.91,0.25),(2003.93,0.14),(2003.95,0.18),(2003.97,0.30),(2003.99,0.10),
    (2003.80,0.45),(2003.82,0.50),(2003.86,0.42),(2003.88,0.63),(2003.90,0.70),(2003.93,0.35),(2003.97,0.55),
    (2003.78,0.33),(2003.78,0.05),(2003.80,0.18),(2003.84,0.08),(2003.86,0.25),(2003.90,0.15),(2003.92,0.05),
    (2003.96,0.12),(2003.98,0.22),
    # 2004
    (2004.01,0.20),(2004.03,0.12),(2004.05,0.28),(2004.07,0.15),(2004.09,0.22),(2004.11,0.10),(2004.13,0.18),
    (2004.15,0.30),(2004.17,0.12),(2004.19,0.20),(2004.21,0.08),(2004.23,0.15),(2004.25,0.10),(2004.27,0.18),
    (2004.29,0.06),(2004.31,0.12),(2004.33,0.09),(2004.35,0.14),(2004.37,0.05),(2004.39,0.10),(2004.41,0.08),
    (2004.43,0.12),(2004.45,0.06),(2004.47,0.10),(2004.49,0.04),(2004.51,0.09),(2004.53,0.06),(2004.55,0.11),
    (2004.57,0.05),(2004.59,0.08),(2004.61,0.12),(2004.63,0.06),(2004.65,0.09),(2004.67,0.05),(2004.69,0.10),
    (2004.71,0.07),(2004.73,0.12),(2004.75,0.06),(2004.77,0.09),(2004.79,0.05),(2004.81,0.10),(2004.83,0.07),
    (2004.85,0.12),(2004.87,0.06),(2004.89,0.09),(2004.91,0.05),(2004.93,0.10),(2004.95,0.13),(2004.97,0.07),
    (2004.99,0.11),(2005.01,0.06),(2005.03,0.15),(2005.05,0.09),
    (2004.00,0.15),(2004.02,0.08),(2004.04,0.20),(2004.06,0.05),(2004.08,0.15),(2004.12,0.25),(2004.14,0.10),
    (2004.16,0.22),(2004.20,0.15),(2004.24,0.25),(2004.28,0.15),(2004.32,0.05),(2004.36,0.10),(2004.40,0.15),
    (2004.44,0.10),(2004.48,0.12),(2004.52,0.14),(2004.56,0.08),(2004.60,0.05),(2004.64,0.14),(2004.68,0.08),
    (2004.72,0.04),(2004.76,0.14),(2004.80,0.10),(2004.84,0.05),(2004.88,0.14),(2004.92,0.12),(2004.96,0.05),
    (2005.00,0.15),(2005.04,0.05),
    (2004.13,2.85),(2004.03,2.43),(2004.13,1.96),(2004.04,1.83),(2004.16,1.16),(2004.26,0.77),(2004.00,0.45),
    (2004.02,0.38),(2004.05,0.60),(2004.08,0.50),(2004.10,0.35),(2004.14,0.45),(2004.18,0.30),(2004.22,0.40),
    (2004.45,0.30),(2004.60,0.25),(2004.85,0.28),(2005.05,0.77),(2005.05,0.31),
    # 2005
    (2005.31,0.12),(2005.32,0.25),(2005.33,0.30),(2005.34,0.20),(2005.35,0.10),(2005.37,0.06),(2005.39,0.15),
    (2005.41,0.08),(2005.43,0.12),(2005.45,0.06),(2005.47,0.10),(2005.49,0.05),(2005.51,0.09),(2005.53,0.07),
    (2005.55,0.12),(2005.57,0.05),(2005.59,0.08),(2005.61,0.06),(2005.63,0.10),(2005.65,0.05),(2005.67,0.08),
    (2005.69,0.06),(2005.71,0.10),(2005.73,0.05),(2005.75,0.09),(2005.77,0.06),(2005.79,0.12),(2005.81,0.08),
    (2005.83,0.15),(2005.85,0.10),(2005.87,0.18),(2005.89,0.12),(2005.91,0.20),(2005.93,0.10),(2005.95,0.15),
    (2005.97,0.08),(2005.99,0.12),
    (2005.315,0.05),(2005.325,0.15),(2005.345,0.05),(2005.36,0.12),(2005.38,0.05),(2005.40,0.10),(2005.44,0.10),
    (2005.48,0.12),(2005.52,0.05),(2005.56,0.10),(2005.60,0.12),(2005.66,0.12),(2005.70,0.05),(2005.74,0.12),
    (2005.78,0.05),(2005.82,0.20),(2005.86,0.05),(2005.90,0.08),(2005.94,0.22),(2005.98,0.20),
    (2005.53,4.33),(2005.64,0.20),(2005.89,0.35),(2005.86,0.34),(2005.98,0.78),
    # 2006
    (2006.01,0.10),(2006.03,0.18),(2006.05,0.25),(2006.07,0.12),(2006.09,0.20),(2006.11,0.08),(2006.13,0.15),
    (2006.15,0.30),(2006.17,0.66),(2006.19,0.20),(2006.21,0.12),(2006.23,0.25),(2006.25,0.15),(2006.27,0.10),
    (2006.29,0.42),(2006.31,0.18),(2006.33,0.56),(2006.35,0.10),(2006.37,0.15),(2006.39,0.08),(2006.41,0.12),
    (2006.43,0.06),(2006.45,0.10),(2006.47,0.05),(2006.49,0.08),(2006.51,0.12),(2006.53,0.06),(2006.55,0.10),
    (2006.57,0.15),(2006.59,0.59),(2006.60,0.43),(2006.61,0.08),(2006.74,0.10),(2006.75,0.21),(2006.76,0.36),
    (2006.82,0.10),(2006.84,0.22),(2006.86,0.08),(2006.88,0.15),(2006.90,0.06),(2006.92,0.26),(2006.94,0.10),
    (2006.96,0.05),(2006.98,0.12),
    (2006.02,0.28),(2006.04,0.08),(2006.06,0.15),(2006.08,0.30),(2006.10,0.18),(2006.12,0.25),(2006.14,0.10),
    (2006.16,0.20),(2006.18,0.12),(2006.20,0.28),(2006.22,0.05),(2006.24,0.15),(2006.26,0.22),(2006.28,0.15),
    (2006.30,0.08),(2006.32,0.25),(2006.34,0.12),(2006.36,0.20),(2006.38,0.10),(2006.40,0.15),(2006.42,0.05),
    (2006.44,0.12),(2006.46,0.10),(2006.48,0.15),(2006.50,0.05),(2006.52,0.10),(2006.54,0.15),(2006.56,0.08),
    (2006.58,0.12),(2006.83,0.18),(2006.87,0.25),(2006.91,0.12),(2006.95,0.20),(2006.99,0.05),
]

chloride = [
    (2000.11,0.01),(2000.14,0.00),(2000.17,0.02),(2000.20,0.00),(2000.23,0.01),(2000.26,0.00),(2000.29,0.01),
    (2000.32,0.00),(2000.35,0.02),(2000.38,0.00),(2000.41,0.01),(2000.44,0.00),(2000.47,0.01),(2000.50,0.00),
    (2000.53,0.02),(2000.56,0.00),(2000.59,0.01),(2000.62,0.00),(2000.65,0.01),(2000.68,0.00),(2000.71,0.02),
    (2000.74,0.00),(2000.77,0.01),(2000.80,0.00),(2000.83,0.01),(2000.86,0.00),(2000.89,0.02),(2000.92,0.00),
    (2000.95,0.01),(2000.98,0.00),
    (2001.01,0.01),(2001.04,0.00),(2001.07,0.02),(2001.10,0.00),(2001.13,0.01),(2001.16,0.00),(2001.20,0.01),
    (2001.23,0.00),(2001.26,0.02),(2001.29,0.00),(2001.32,0.01),(2001.35,0.00),(2001.38,0.01),(2001.41,0.00),
    (2001.45,0.01),(2001.48,0.00),(2001.51,0.01),(2001.54,0.00),(2001.57,0.02),(2001.60,0.00),(2001.63,0.01),
    (2001.66,0.00),(2001.69,0.01),(2001.77,0.00),(2001.80,0.01),(2001.83,0.00),
    (2001.96,0.01),(2001.99,0.00),(2002.02,0.01),(2002.05,0.00),(2002.08,0.02),(2002.11,0.00),(2002.14,0.01),
    (2002.17,0.00),(2002.20,0.01),(2002.23,0.00),(2002.26,0.02),(2002.29,0.00),(2002.32,0.01),(2002.35,0.00),
    (2002.38,0.01),(2002.41,0.00),(2002.46,0.01),(2002.49,0.00),(2002.47,0.38),
    (2002.54,0.01),(2002.57,0.00),(2002.60,0.01),(2002.63,0.00),(2002.66,0.02),(2002.69,0.00),
    (2002.81,0.01),(2002.84,0.00),(2002.87,0.01),(2002.90,0.00),(2002.93,0.01),
    (2003.00,0.00),(2003.03,0.01),(2003.06,0.00),(2003.09,0.02),(2003.12,0.00),
    (2003.26,0.01),(2003.29,0.00),(2003.32,0.01),(2003.35,0.00),(2003.38,0.01),
    (2003.47,0.00),(2003.50,0.01),(2003.53,0.00),(2003.56,0.02),(2003.59,0.00),
    (2003.78,0.01),(2003.81,0.00),(2003.84,0.01),(2003.87,0.00),(2003.90,0.02),(2003.93,0.00),(2003.96,0.01),
    (2003.99,0.00),(2004.02,0.01),(2004.05,0.00),(2004.08,0.01),(2004.11,0.00),(2004.14,0.02),(2004.17,0.00),
    (2004.20,0.01),(2004.23,0.00),(2004.26,0.01),(2004.29,0.00),(2004.32,0.02),(2004.35,0.00),(2004.38,0.01),
    (2004.41,0.00),(2004.44,0.01),(2004.47,0.00),(2004.50,0.02),(2004.53,0.00),(2004.56,0.01),(2004.59,0.00),
    (2004.62,0.01),(2004.65,0.00),(2004.68,0.02),(2004.71,0.00),(2004.74,0.01),(2004.77,0.00),(2004.80,0.01),
    (2004.83,0.00),(2004.86,0.02),(2004.89,0.00),(2004.92,0.01),(2004.95,0.00),(2004.98,0.01),(2005.01,0.00),
    (2005.04,0.01),
    (2005.32,0.00),(2005.35,0.01),(2005.38,0.00),(2005.41,0.01),(2005.44,0.00),(2005.47,0.02),(2005.50,0.00),
    (2005.53,0.01),(2005.56,0.00),(2005.59,0.01),(2005.62,0.00),(2005.65,0.02),(2005.68,0.00),(2005.71,0.01),
    (2005.74,0.00),(2005.77,0.01),(2005.80,0.00),(2005.83,0.02),(2005.86,0.00),(2005.89,0.01),(2005.92,0.00),
    (2005.95,0.01),(2005.98,0.00),(2005.52,0.37),
    (2006.01,0.01),(2006.04,0.00),(2006.07,0.01),(2006.10,0.00),(2006.13,0.02),(2006.16,0.00),(2006.19,0.01),
    (2006.22,0.00),(2006.25,0.01),(2006.28,0.00),(2006.31,0.02),(2006.34,0.00),(2006.37,0.01),(2006.40,0.00),
    (2006.43,0.01),(2006.46,0.00),(2006.49,0.02),(2006.52,0.00),(2006.55,0.01),(2006.58,0.00),(2006.61,0.01),
    (2006.82,0.00),(2006.85,0.01),(2006.88,0.00),(2006.91,0.01),(2006.94,0.00),(2006.97,0.01),
]

sulfate_smoothed = [
    (2000.125,3.05),(2000.159,2.70),(2000.202,2.36),(2000.246,2.21),(2000.282,2.16),(2000.318,2.24),
    (2000.355,2.38),(2000.405,2.39),(2000.456,2.42),(2000.485,2.58),(2000.507,2.85),(2000.529,3.30),
    (2000.551,3.60),(2000.580,3.84),(2000.616,3.92),(2000.652,3.89),(2000.682,3.80),(2000.703,3.63),
    (2000.725,3.33),(2000.747,3.00),(2000.769,2.55),(2000.790,2.13),(2000.820,1.79),(2000.849,1.53),
    (2000.885,1.27),(2000.920,1.14),(2000.950,1.10),(2000.987,1.16),(2001.023,1.33),(2001.060,1.53),
    (2001.103,1.72),(2001.130,1.91),(2001.160,2.24),(2001.190,2.66),(2001.219,3.00),(2001.248,3.11),
    (2001.277,3.05),(2001.313,3.07),(2001.371,3.05),(2001.410,3.16),(2001.451,3.33),(2001.495,3.46),
    (2001.553,3.55),(2001.589,3.50),(2001.633,3.33),(2001.684,3.03),(2001.742,2.62),(2001.800,2.17),
    (2001.858,1.87),(2001.916,1.53),(2001.974,1.25),(2002.018,1.17),(2002.050,1.19),(2002.090,1.27),
    (2002.160,1.51),(2002.235,1.97),(2002.320,2.20),(2002.380,2.58),(2002.440,3.22),(2002.500,3.80),
    (2002.550,4.29),(2002.590,4.40),(2002.640,4.25),(2002.700,3.83),(2002.760,3.26),(2002.816,2.61),
    (2002.860,2.27),(2002.900,2.06),(2002.960,1.70),(2003.005,1.40),(2003.050,1.19),(2003.080,1.13),
    (2003.120,1.27),(2003.160,1.82),(2003.210,2.65),(2003.270,3.45),(2003.340,4.14),(2003.400,4.56),
    (2003.455,5.05),(2003.520,5.62),(2003.557,5.75),(2003.580,5.77),(2003.600,5.54),(2003.645,4.90),
    (2003.690,4.21),(2003.746,3.34),(2003.790,2.73),(2003.830,2.42),(2003.877,2.31),(2003.913,2.20),
    (2003.940,2.01),(2003.980,1.63),(2004.008,1.38),(2004.040,1.47),(2004.070,1.60),(2004.100,1.66),
    (2004.140,1.72),(2004.180,1.85),(2004.215,1.97),(2004.250,2.10),(2004.290,2.24),(2004.320,2.40),
    (2004.350,2.52),(2004.370,2.45),(2004.390,2.39),(2004.440,2.24),(2004.480,2.12),(2004.510,2.16),
    (2004.550,2.50),(2004.580,2.85),(2004.600,3.07),(2004.630,3.35),(2004.660,3.56),(2004.680,3.52),
    (2004.700,3.45),(2004.730,3.20),(2004.750,2.95),(2004.780,2.50),(2004.800,2.19),(2004.830,1.80),
    (2004.850,1.50),(2004.880,1.25),(2004.910,1.10),(2004.940,1.05),(2004.970,1.15),(2005.010,1.32),
    (2005.070,1.51),(2005.130,1.85),(2005.190,2.20),(2005.250,2.54),(2005.290,2.85),(2005.330,3.22),
    (2005.360,3.55),(2005.380,3.79),(2005.400,4.05),(2005.420,4.29),(2005.450,4.45),(2005.470,4.55),
    (2005.510,4.67),(2005.530,4.62),(2005.540,4.55),(2005.560,4.20),(2005.580,3.87),(2005.600,3.76),
    (2005.630,3.68),(2005.665,3.59),(2005.685,3.68),(2005.700,3.70),(2005.730,3.45),(2005.760,2.95),
    (2005.790,2.39),(2005.820,1.80),(2005.850,1.25),(2005.870,1.05),(2005.900,0.78),(2005.947,0.68),
    (2006.000,0.72),(2006.040,0.86),(2006.080,1.06),(2006.110,1.30),(2006.130,1.53),(2006.160,1.69),
    (2006.190,1.79),(2006.240,1.83),(2006.270,1.69),(2006.300,1.57),(2006.325,1.65),(2006.360,1.85),
    (2006.405,2.13),(2006.440,2.40),(2006.480,2.60),(2006.510,2.66),(2006.557,2.64),(2006.590,2.52),
    (2006.650,2.30),(2006.695,2.20),(2006.746,2.04),(2006.797,1.80),(2006.855,1.48),(2006.906,1.17),
    (2006.956,0.86),(2006.990,0.63),
]

year_ticks = [2000, 2001, 2002, 2003, 2004, 2005, 2006, 2007]
conc_ticks = [0, 2, 4, 6, 8, 10]

series = [
    ('Ammonium', ammonium, '#FFA500'),
    ('Chloride', chloride, '#FF14C8'),
    ('Nitrate', nitrate, '#0000FF'),
    ('Sulfate', sulfate, '#FF0000'),
]

# --------------------------------------------------
# plot
# --------------------------------------------------
fig = plt.figure(figsize=(18.39, 9.64), dpi=100)
ax = fig.add_axes([173.6 / 1839, 48 / 964, 1606.4 / 1839, 888 / 964])

for name, data, color in series:
    t, v = np.array(data).T
    ax.scatter(t, v, s=74, c=color, linewidths=0, label=name, zorder=3, clip_on=False)

t, v = np.array(sulfate_smoothed).T
ax.plot(t, v, color='black', lw=3.6, label='Sulfate, smoothed', zorder=4)

ax.set_xlim(2000, 2007)
ax.set_ylim(0, 10)
ax.set_xticks(year_ticks)
ax.set_xticklabels([str(y) for y in year_ticks])
ax.set_yticks(conc_ticks)
ax.set_yticklabels([str(c) for c in conc_ticks])

ax.set_axisbelow(True)
ax.xaxis.grid(True, color='#6c6cff', linestyle=(0, (2, 2.5)), linewidth=0.9)
ax.yaxis.grid(False)

ax.tick_params(axis='both', direction='in', length=18, width=1, top=True, right=True,
               labelsize=28, colors='black')
ax.tick_params(axis='x', pad=8)
ax.tick_params(axis='y', pad=8)
for sp in ax.spines.values():
    sp.set_linewidth(1.0)

ax.set_ylabel('Concentration, μg m$^{-3}$', fontsize=34)
ax.yaxis.set_label_coords(-0.063, 0.5)

leg = ax.legend(loc='upper left', bbox_to_anchor=(0.2788, 0.5, 0.3073, 0.446), mode='expand',
                fontsize=34, frameon=True, fancybox=False, edgecolor='black', framealpha=1,
                borderpad=0.1, labelspacing=0.07, handlelength=1.6, handletextpad=0.35,
                borderaxespad=0, scatterpoints=1)
leg.get_frame().set_linewidth(1.2)
leg.set_zorder(6)

fig.savefig('out.png', dpi=100)
